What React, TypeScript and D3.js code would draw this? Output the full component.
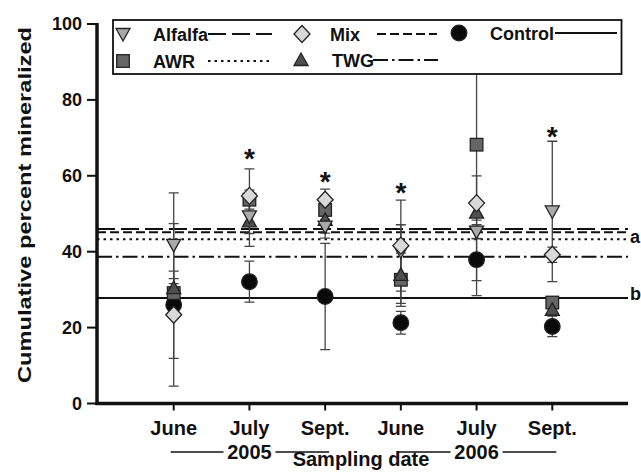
import React from "react";
import * as d3 from "d3";

// ---------- data ----------
const months = ["June", "July", "Sept.", "June", "July", "Sept."];
const years = ["2005", "2006"];

const alfalfa = [41.8, 49.3, 46.6, 40.1, 45.3, 50.6];
const alfalfaErr = [13.7, 4.5, 3.0, 7.0, 1.8, 18.5];
const mix = [23.4, 54.7, 53.7, 41.6, 52.8, 39.2];
const mixErr = [11.5, 7.1, 2.8, 12.0, 7.2, 2.0];
const awr = [29.1, 53.7, 51.0, 32.6, 68.2, 26.6];
const awrErr = [2.5, 2.5, 2.5, 7.0, 39.8, 1.5];
const twg = [30.4, 48.0, 48.4, 33.9, 50.3, 24.7];
const twgErr = [2.5, 6.6, 3.5, 7.5, 2.0, 1.5];
const control = [26.0, 32.1, 28.2, 21.3, 37.9, 20.3];
const controlErr = [21.4, 5.4, 14.0, 3.0, 5.5, 2.7];

// overall treatment means (horizontal reference lines)
const meanAlfalfa = 46.0;
const meanMix = 45.1;
const meanAWR = 43.3;
const meanTWG = 38.7;
const meanControl = 27.8;

// significance stars: date index (0-based) and height
const starDates = [1, 2, 3, 5];
const starValues = [66.4, 60.3, 57.2, 72.2];

const yTicks = [0, 20, 40, 60, 80, 100];

// ---------- layout ----------
const W = 641;
const H = 473;
const x = d3.scaleLinear().domain([0, 7]).range([98, 628]);
const y = d3.scaleLinear().domain([0, 100]).range([403.5, 24]);
const X0 = 97;
const XEND = 628;

const FONT = "'Liberation Sans', Arial, Helvetica, sans-serif";

type Shape = "tdown" | "tup" | "diamond" | "square" | "circle";

function Marker({ shape, cx, cy, fill }: { shape: Shape; cx: number; cy: number; fill: string }) {
  const stroke = "#222";
  const sw = 1.3;
  if (shape === "circle") return <circle cx={cx} cy={cy} r={7.8} fill={fill} stroke={stroke} strokeWidth={sw} />;
  if (shape === "square")
    return <rect x={cx - 6.3} y={cy - 6.3} width={12.6} height={12.6} fill={fill} stroke={stroke} strokeWidth={sw} />;
  if (shape === "diamond")
    return (
      <path
        d={`M${cx},${cy - 8.5}L${cx + 8},${cy}L${cx},${cy + 8.5}L${cx - 8},${cy}Z`}
        fill={fill}
        stroke={stroke}
        strokeWidth={sw}
      />
    );
  if (shape === "tdown")
    return (
      <path
        d={`M${cx - 7},${cy - 5.5}L${cx + 7},${cy - 5.5}L${cx},${cy + 7}Z`}
        fill={fill}
        stroke={stroke}
        strokeWidth={sw}
      />
    );
  return (
    <path
      d={`M${cx - 7},${cy + 5.5}L${cx + 7},${cy + 5.5}L${cx},${cy - 7}Z`}
      fill={fill}
      stroke={stroke}
      strokeWidth={sw}
    />
  );
}

type Series = {
  name: string;
  vals: number[];
  errs: number[];
  shape: Shape;
  fill: string;
  mean: number;
  dash: string;
};

const series: Series[] = [
  { name: "Control", vals: control, errs: controlErr, shape: "circle", fill: "#0a0a0a", mean: meanControl, dash: "none" },
  { name: "AWR", vals: awr, errs: awrErr, shape: "square", fill: "#666666", mean: meanAWR, dash: "2.5,4" },
  { name: "TWG", vals: twg, errs: twgErr, shape: "tup", fill: "#4f4f4f", mean: meanTWG, dash: "15,4,2.5,4" },
  { name: "Alfalfa", vals: alfalfa, errs: alfalfaErr, shape: "tdown", fill: "#a9a9a9", mean: meanAlfalfa, dash: "18,6" },
  { name: "Mix", vals: mix, errs: mixErr, shape: "diamond", fill: "#d9d9d9", mean: meanMix, dash: "9,4" },
];

export default function App() {
  const capW = 5;
  const legendItems = [
    { s: series[3], mx: 123, my: 34, tx: 153, lx1: 208, lx2: 272 },
    { s: series[4], mx: 302, my: 34, tx: 330, lx1: 377, lx2: 437 },
    { s: series[0], mx: 459, my: 33, tx: 490, lx1: 555, lx2: 617 },
    { s: series[1], mx: 123, my: 61, tx: 153, lx1: 208, lx2: 272 },
    { s: series[2], mx: 301, my: 60, tx: 332, lx1: 373, lx2: 438 },
  ];
  return (
    <svg width={W} height={H} style={{ display: "block", position: "absolute", left: 0, top: 0, background: "#fff" }}>
      <defs>
        <clipPath id="plot">
          <rect x={X0} y={y(100)} width={XEND - X0 + 5} height={y(0) - y(100)} />
        </clipPath>
      </defs>
      <rect x={0} y={0} width={W} height={H} fill="#fff" />

      {/* reference mean lines */}
      {series.map((s) => (
        <line
          key={"m" + s.name}
          x1={X0}
          x2={XEND}
          y1={y(s.mean)}
          y2={y(s.mean)}
          stroke="#111"
          strokeWidth={2}
          strokeDasharray={s.dash}
        />
      ))}
      <text x={630} y={243} fontFamily={FONT} fontWeight="bold" fontSize={18} fill="#111">a</text>
      <text x={630} y={300} fontFamily={FONT} fontWeight="bold" fontSize={18} fill="#111">b</text>

      {/* error bars */}
      <g clipPath="url(#plot)">
        {series.map((s) =>
          s.vals.map((v, i) => {
            const cx = x(i + 1);
            const top = y(v + s.errs[i]);
            const bot = y(Math.max(0, v - s.errs[i]));
            return (
              <g key={"e" + s.name + i} stroke="#444" strokeWidth={1.3}>
                <line x1={cx} x2={cx} y1={top} y2={bot} />
                <line x1={cx - capW} x2={cx + capW} y1={top} y2={top} />
                <line x1={cx - capW} x2={cx + capW} y1={bot} y2={bot} />
              </g>
            );
          })
        )}
      </g>

      {/* markers */}
      {series.map((s) =>
        s.vals.map((v, i) => <Marker key={"p" + s.name + i} shape={s.shape} cx={x(i + 1)} cy={y(v)} fill={s.fill} />)
      )}

      {/* significance stars */}
      {starDates.map((d, i) => (
        <text
          key={"s" + i}
          x={x(d + 1)}
          y={y(starValues[i]) + 16}
          textAnchor="middle"
          fontFamily={FONT}
          fontWeight="bold"
          fontSize={28}
          fill="#111"
        >
          *
        </text>
      ))}

      {/* axes */}
      <line x1={X0} x2={X0} y1={y(100) - 1} y2={y(0) + 1.5} stroke="#111" strokeWidth={3.5} />
      <line x1={X0 - 1.5} x2={XEND} y1={y(0)} y2={y(0)} stroke="#111" strokeWidth={3.5} />
      {yTicks.map((t) => (
        <g key={"yt" + t}>
          <line x1={X0 - 10} x2={X0} y1={y(t)} y2={y(t)} stroke="#111" strokeWidth={2} />
          <text
            x={82}
            y={y(t) + 6}
            textAnchor="end"
            fontFamily={FONT}
            fontWeight="bold"
            fontSize={18}
            fill="#111"
          >
            {t}
          </text>
        </g>
      ))}
      {months.map((m, i) => (
        <g key={"xt" + i}>
          <line x1={x(i + 1)} x2={x(i + 1)} y1={y(0)} y2={y(0) + 7} stroke="#111" strokeWidth={2} />
          <text
            x={x(i + 1)}
            y={435}
            textAnchor="middle"
            fontFamily={FONT}
            fontWeight="bold"
            fontSize={20}
            fill="#111"
          >
            {m}
          </text>
        </g>
      ))}
      {years.map((yr, k) => {
        const cx = x(2 + 3 * k) + 0;
        return (
          <g key={"yr" + yr}>
            <line x1={x(1 + 3 * k) - 3} x2={cx - 26} y1={452} y2={452} stroke="#111" strokeWidth={1.5} />
            <line x1={cx + 26} x2={x(3 + 3 * k) + 4} y1={452} y2={452} stroke="#111" strokeWidth={1.5} />
            <text x={cx} y={459} textAnchor="middle" fontFamily={FONT} fontWeight="bold" fontSize={20} fill="#111">
              {yr}
            </text>
          </g>
        );
      })}
      <text x={361} y={466} textAnchor="middle" fontFamily={FONT} fontWeight="bold" fontSize={20} fill="#111">
        Sampling date
      </text>
      <text
        transform={`translate(31,${(27 + 383) / 2}) rotate(-90)`}
        textAnchor="middle"
        fontFamily={FONT}
        fontWeight="bold"
        fontSize={19}
        fill="#111"
        textLength={356}
        lengthAdjust="spacingAndGlyphs"
      >
        Cumulative percent mineralized
      </text>

      {/* legend */}
      <rect x={113} y={20} width={621.5 - 113} height={54} fill="#fff" stroke="#111" strokeWidth={1.8} />
      {legendItems.map((it) => (
        <g key={"l" + it.s.name}>
          <Marker shape={it.s.shape} cx={it.mx} cy={it.my} fill={it.s.fill} />
          <text x={it.tx} y={it.my + 6.5} fontFamily={FONT} fontWeight="bold" fontSize={18} fill="#111">
            {it.s.name}
          </text>
          <line
            x1={it.lx1}
            x2={it.lx2}
            y1={it.my}
            y2={it.my}
            stroke="#111"
            strokeWidth={2}
            strokeDasharray={it.s.dash}
          />
        </g>
      ))}
    </svg>
  );
}
